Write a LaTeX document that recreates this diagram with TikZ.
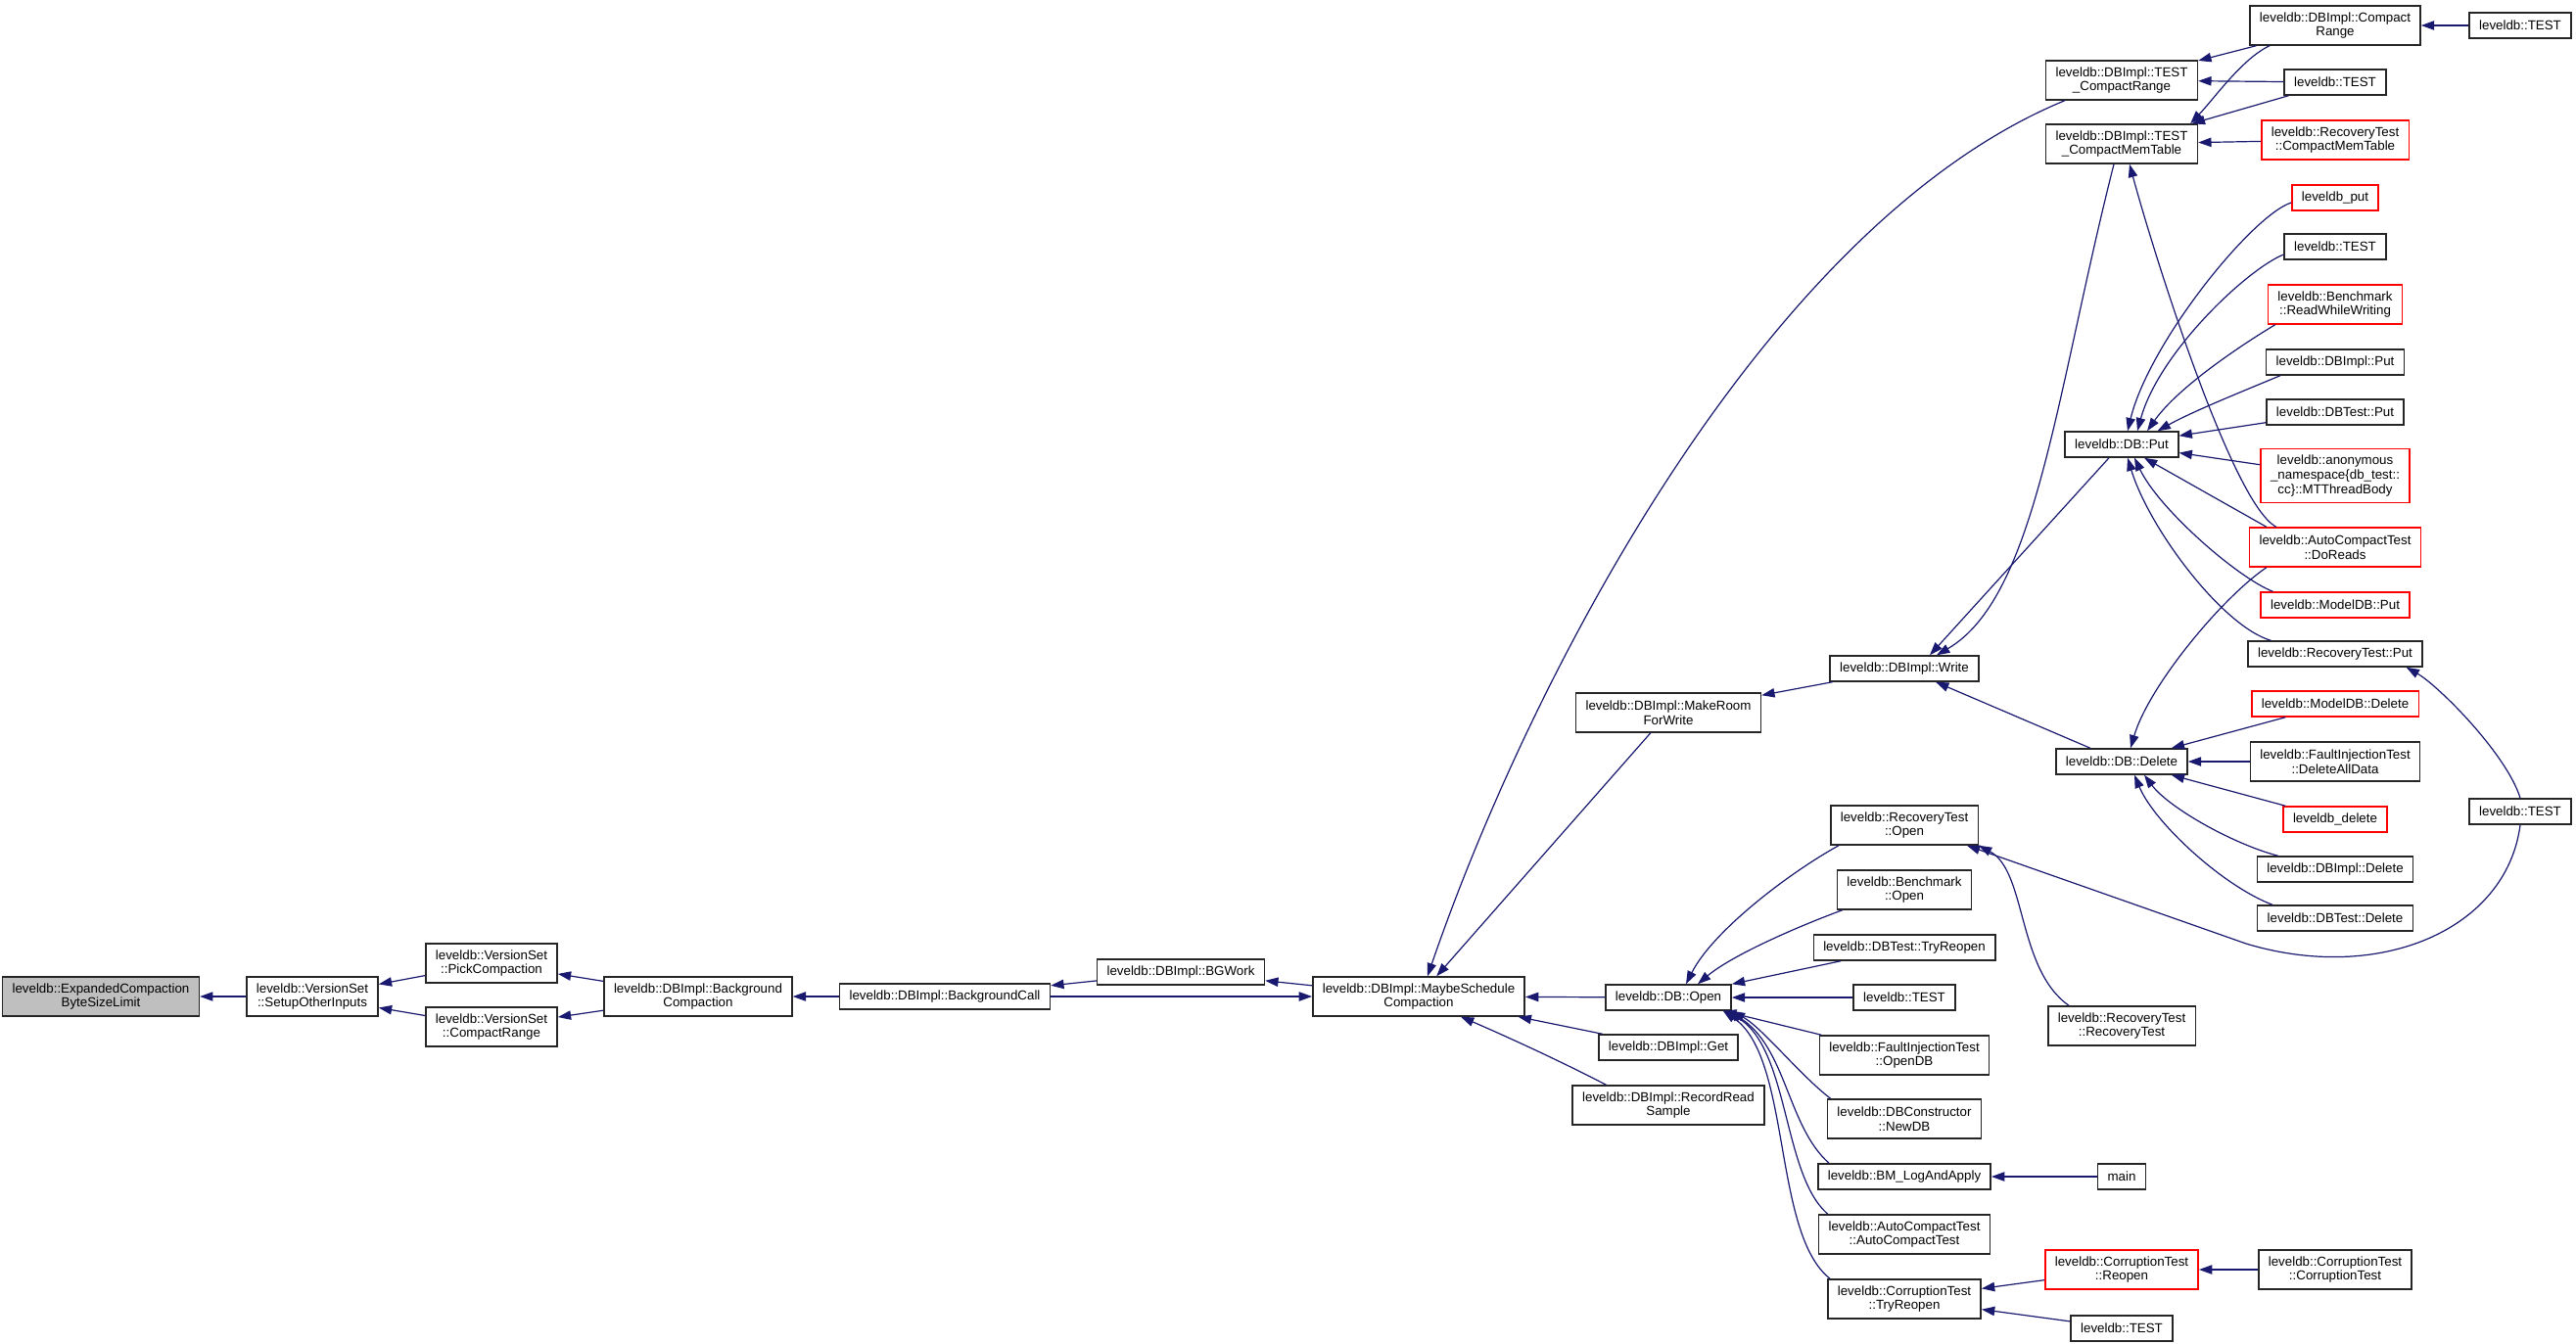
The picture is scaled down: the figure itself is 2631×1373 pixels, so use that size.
\documentclass[tikz,border=0pt]{standalone}
\usepackage{fontspec}
\setmainfont{Liberation Sans}
\usetikzlibrary{arrows.meta,calc}
\definecolor{edgecol}{RGB}{25,25,112}
\definecolor{boxgray}{RGB}{191,191,191}
\begin{document}
\begin{tikzpicture}[x=0.75pt,y=-0.75pt,
  nd/.style={draw=black!85, line width=1.1pt, fill=white, font=\fontsize{10}{11}\selectfont,
    align=center, inner xsep=7.5pt, inner ysep=0pt, minimum height=19.5pt},
  nd2/.style={nd, minimum height=30pt},
  nd3/.style={nd, minimum height=41pt},
  redbox/.style={draw=red},
  hl/.style={fill=boxgray},
  edge/.style={draw=edgecol, line width=0.9pt, -{Triangle[length=10pt,width=7pt]}}]
\fill[white] (0,0) rectangle (2631,1373);
\useasboundingbox (0,0) rectangle (2631,1373);
% left chain
\node[nd2,hl] (e) at (103,1018) {leveldb::ExpandedCompaction\\ByteSizeLimit};
\node[nd2] (soi) at (319,1018) {leveldb::VersionSet\\::SetupOtherInputs};
\node[nd2] (pick) at (502,984) {leveldb::VersionSet\\::PickCompaction};
\node[nd2] (vscr) at (502,1049) {leveldb::VersionSet\\::CompactRange};
\node[nd2] (bgc) at (713,1018) {leveldb::DBImpl::Background\\Compaction};
\node[nd] (bcall) at (965,1018) {leveldb::DBImpl::BackgroundCall};
\node[nd] (bgw) at (1206,993) {leveldb::DBImpl::BGWork};
\node[nd2] (msc) at (1449,1018) {leveldb::DBImpl::MaybeSchedule\\Compaction};
% column 8
\node[nd2] (mrw) at (1704,728) {leveldb::DBImpl::MakeRoom\\ForWrite};
\node[nd] (open) at (1704,1019) {leveldb::DB::Open};
\node[nd] (get) at (1704,1070) {leveldb::DBImpl::Get};
\node[nd2] (rrs) at (1704,1129) {leveldb::DBImpl::RecordRead\\Sample};
% column 9
\node[nd] (write) at (1945,683) {leveldb::DBImpl::Write};
\node[nd2] (rto) at (1945,843) {leveldb::RecoveryTest\\::Open};
\node[nd2] (bo) at (1945,909) {leveldb::Benchmark\\::Open};
\node[nd] (dbtr) at (1945,968) {leveldb::DBTest::TryReopen};
\node[nd] (t5) at (1945,1019) {leveldb::TEST};
\node[nd2] (fio) at (1945,1078) {leveldb::FaultInjectionTest\\::OpenDB};
\node[nd2] (newdb) at (1945,1143) {leveldb::DBConstructor\\::NewDB};
\node[nd] (bm) at (1945,1202) {leveldb::BM\_LogAndApply};
\node[nd2] (act) at (1945,1261) {leveldb::AutoCompactTest\\::AutoCompactTest};
\node[nd2] (ctr) at (1945,1327) {leveldb::CorruptionTest\\::TryReopen};
% column 10
\node[nd2] (tcr) at (2167,82) {leveldb::DBImpl::TEST\\\_CompactRange};
\node[nd2] (tcmt) at (2167,147) {leveldb::DBImpl::TEST\\\_CompactMemTable};
\node[nd] (put) at (2167,454) {leveldb::DB::Put};
\node[nd] (del) at (2167,778) {leveldb::DB::Delete};
\node[nd2] (rtrt) at (2167,1048) {leveldb::RecoveryTest\\::RecoveryTest};
\node[nd] (main) at (2167,1202) {main};
\node[nd2,redbox] (crr) at (2167,1297) {leveldb::CorruptionTest\\::Reopen};
\node[nd] (tb) at (2167,1357) {leveldb::TEST};
% column 11
\node[nd2] (dbcr) at (2385,26) {leveldb::DBImpl::Compact\\Range};
\node[nd] (t2) at (2385,84) {leveldb::TEST};
\node[nd2,redbox] (rtcmt) at (2385,143) {leveldb::RecoveryTest\\::CompactMemTable};
\node[nd,redbox] (lput) at (2385,202) {leveldb\_put};
\node[nd] (t3) at (2385,252) {leveldb::TEST};
\node[nd2,redbox] (rww) at (2385,311) {leveldb::Benchmark\\::ReadWhileWriting};
\node[nd] (dbiput) at (2385,370) {leveldb::DBImpl::Put};
\node[nd] (dbtput) at (2385,421) {leveldb::DBTest::Put};
\node[nd3,redbox] (mtt) at (2385,486) {leveldb::anonymous\\\_namespace\{db\_test::\\cc\}::MTThreadBody};
\node[nd2,redbox] (dor) at (2385,559) {leveldb::AutoCompactTest\\::DoReads};
\node[nd,redbox] (mput) at (2385,618) {leveldb::ModelDB::Put};
\node[nd] (rtput) at (2385,668) {leveldb::RecoveryTest::Put};
\node[nd,redbox] (mdel) at (2385,719) {leveldb::ModelDB::Delete};
\node[nd2] (dad) at (2385,778) {leveldb::FaultInjectionTest\\::DeleteAllData};
\node[nd,redbox] (ldel) at (2385,837) {leveldb\_delete};
\node[nd] (dbidel) at (2385,888) {leveldb::DBImpl::Delete};
\node[nd] (dbtdel) at (2385,938) {leveldb::DBTest::Delete};
\node[nd2] (cct) at (2385,1297) {leveldb::CorruptionTest\\::CorruptionTest};
% column 12
\node[nd] (t1) at (2574,26) {leveldb::TEST};
\node[nd] (t4) at (2574,829) {leveldb::TEST};

% ---- edges ----
\draw[edge] (soi) -- (e);
\draw[edge] (pick) -- (soi);
\draw[edge] (vscr) -- (soi);
\draw[edge] (bgc) -- (pick);
\draw[edge] (bgc) -- (vscr);
\draw[edge] (bcall) -- (bgc);
\draw[edge] (bgw) -- (bcall);
\draw[edge] (bcall) -- (msc);
\draw[edge] (msc) -- (bgw);
\draw[edge] ($(tcr.south west)+(20,0)$) .. controls (1800,230) and (1560,700) .. ($(msc.north)+(9,0)$);
\draw[edge] (mrw) -- (msc);
\draw[edge] (open) -- (msc);
\draw[edge] (get) -- (msc);
\draw[edge] ($(rrs.north west)+(35,0)$) .. controls (1590,1082) and (1530,1055) .. ($(msc.south)+(43,0)$);
\draw[edge] (write) -- (mrw);
\draw[edge] (del) -- (write);
\draw[edge] ($(tcmt.south)+(-8,0)$) .. controls (2100,400) and (2080,610) .. ($(write.north)+(33,0)$);
\draw[edge] ($(put.south)+(-13,0)$) -- ($(write.north)+(26,0)$);
% top right
\draw[edge] (t1) -- (dbcr);
\draw[edge] (dbcr) -- (tcr);
\draw[edge] (t2) -- (tcr);
\draw[edge] ($(dbcr.south)+(-67,0)$) .. controls (2290,60) and (2262,100) .. ($(tcmt.north east)+(-8,0)$);
\draw[edge] (t2) -- (tcmt);
\draw[edge] (rtcmt) -- (tcmt);
\draw[edge] ($(dor.north west)+(28,0)$) .. controls (2280,515) and (2200,260) .. ($(tcmt.south)+(8,0)$);
% DB::Put callers
\draw[edge] ($(lput.west)+(0,5)$) .. controls (2300,220) and (2195,350) .. ($(put.north)+(6,0)$);
\draw[edge] ($(t3.west)+(0,8)$) .. controls (2295,275) and (2205,360) .. ($(put.north)+(16,0)$);
\draw[edge] ($(rww.south west)+(8,0)$) .. controls (2290,352) and (2225,395) .. ($(put.north)+(26,0)$);
\draw[edge] ($(dbiput.south west)+(15,0)$) .. controls (2290,400) and (2240,420) .. ($(put.north east)+(-22,0)$);
\draw[edge] (dbtput) -- (put);
\draw[edge] (mtt) -- (put);
\draw[edge] ($(dor.north west)+(18,0)$) -- ($(put.south)+(23,0)$);
\draw[edge] ($(mput.north west)+(13,0)$) .. controls (2285,590) and (2205,520) .. ($(put.south)+(13,0)$);
\draw[edge] ($(rtput.north west)+(24,0)$) .. controls (2270,640) and (2195,540) .. ($(put.south)+(6,0)$);
% DB::Delete callers
\draw[edge] ($(dor.south west)+(18,0)$) .. controls (2270,610) and (2195,700) .. ($(del.north)+(9,0)$);
\draw[edge] (mdel) -- (del);
\draw[edge] (dad) -- (del);
\draw[edge] (ldel) -- (del);
\draw[edge] ($(dbidel.north west)+(22,0)$) .. controls (2280,862) and (2215,825) .. ($(del.south)+(23,0)$);
\draw[edge] ($(dbtdel.north west)+(16,0)$) .. controls (2270,905) and (2200,840) .. ($(del.south)+(13,0)$);
% far right TEST
\draw[edge] (t4.north) .. controls (2560,770) and (2490,700) .. ($(rtput.south east)+(-17,0)$);
\draw[edge] (t4.south) .. controls (2560,950) and (2430,1005) .. (2294,964) -- ($(rto.south east)+(-12,0)$);
\draw[edge] ($(rtrt.north west)+(22,0)$) .. controls (2060,990) and (2070,890) .. (rto.south east);
% DB::Open callers
\draw[edge] ($(rto.south west)+(9,0)$) .. controls (1830,890) and (1750,950) .. ($(open.north)+(18,0)$);
\draw[edge] ($(bo.south west)+(6,0)$) .. controls (1840,945) and (1770,975) .. ($(open.north)+(30,0)$);
\draw[edge] (dbtr) -- (open);
\draw[edge] (t5) -- (open);
\draw[edge] (fio) -- (open);
\draw[edge] ($(newdb.north west)+(4,0)$) .. controls (1840,1100) and (1800,1050) .. (open.south east);
\draw[edge] ($(bm.north west)+(12,0)$) .. controls (1825,1150) and (1825,1070) .. ($(open.south east)+(-3,0)$);
\draw[edge] ($(act.north west)+(10,0)$) .. controls (1820,1200) and (1828,1070) .. ($(open.south east)+(-6,0)$);
\draw[edge] ($(ctr.north west)+(3,0)$) .. controls (1810,1260) and (1830,1080) .. ($(open.south east)+(-9,0)$);
% bottom
\draw[edge] (main) -- (bm);
\draw[edge] (crr) -- (ctr);
\draw[edge] (tb) -- (ctr);
\draw[edge] (cct) -- (crr);
\end{tikzpicture}
\end{document}
